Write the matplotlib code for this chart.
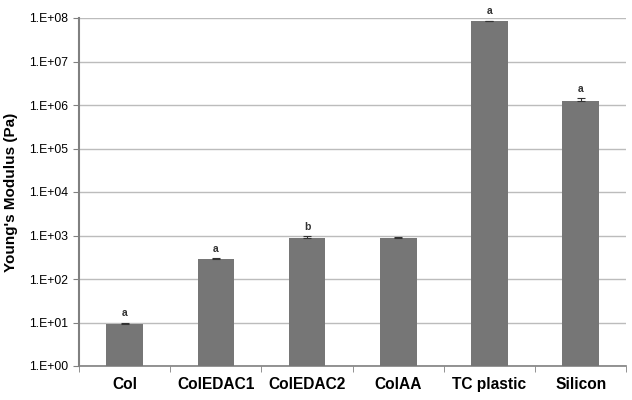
import numpy as np
import matplotlib
matplotlib.use("Agg")
import matplotlib.pyplot as plt

plt.rcParams["font.family"] = ["Liberation Sans", "DejaVu Sans"]

categories = ["Col", "ColEDAC1", "ColEDAC2", "ColAA", "TC plastic", "Silicon"]
modulus = [9.1, 283, 890, 880, 8.5e7, 1.22e6]
err = [0.9, 25, 60, 30, 2.5e6, 2.4e5]
letters = ["a", "a", "b", "", "a", "a"]
ytick_vals = [1e0, 1e1, 1e2, 1e3, 1e4, 1e5, 1e6, 1e7, 1e8]
ytick_labels = ["1.E+00", "1.E+01", "1.E+02", "1.E+03", "1.E+04",
                "1.E+05", "1.E+06", "1.E+07", "1.E+08"]

fig = plt.figure(figsize=(6.32, 4.0), dpi=100)
ax = fig.add_axes([0.125, 0.085, 0.866, 0.87])

x = np.arange(len(categories))
ax.bar(x, modulus, width=0.4, color="#767676", zorder=3)
ax.errorbar(x, modulus, yerr=[np.zeros(len(err)), err], fmt="none",
            ecolor="#333333", elinewidth=0.8, capsize=3, capthick=0.8, zorder=4)

for xi, v, e, t in zip(x, modulus, err, letters):
    if t:
        ax.text(xi, (v + e) * 1.25, t, ha="center", va="bottom",
                fontsize=7.5, fontweight="bold", color="#333333")

ax.set_yscale("log")
ax.set_ylim(1, 1e8)
ax.set_xlim(-0.5, len(categories) - 0.5)
ax.set_yticks(ytick_vals)
ax.set_yticklabels(ytick_labels, fontsize=8.8)
ax.yaxis.set_minor_locator(matplotlib.ticker.NullLocator())
ax.set_xticks(x)
ax.set_xticklabels(categories, fontsize=11.2, fontweight="bold")
ax.tick_params(axis="x", length=0, pad=8)
ax.set_xticks(np.arange(-0.5, len(categories)), minor=True)
ax.tick_params(axis="x", which="minor", length=4, color="#808080")
ax.tick_params(axis="y", length=4, color="#808080")

ax.grid(axis="y", color="#bcbcbc", linewidth=1, zorder=0)
for s in ["top", "right"]:
    ax.spines[s].set_visible(False)
ax.spines["left"].set_color("#808080")
ax.spines["bottom"].set_color("#808080")
ax.spines["left"].set_linewidth(1.5)
ax.spines["bottom"].set_linewidth(1.2)

ax.set_ylabel("Young's Modulus (Pa)", fontsize=11, fontweight="bold", labelpad=8)

fig.savefig("out.png", dpi=100)
